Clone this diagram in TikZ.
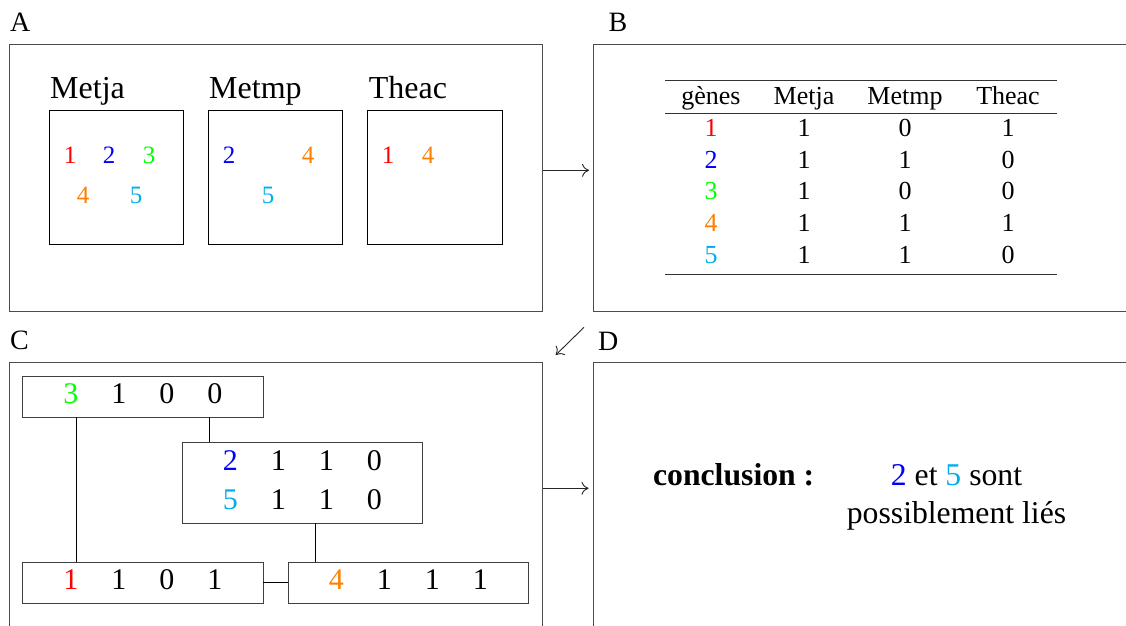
\documentclass[tikz,border=0pt]{standalone}
\usepackage{fontspec}
\setmainfont{Liberation Serif}
\usetikzlibrary{arrows.meta}
\definecolor{gred}{HTML}{FF0000}
\definecolor{gblue}{HTML}{0000FF}
\definecolor{ggreen}{HTML}{00FF00}
\definecolor{gorange}{HTML}{FF8000}
\definecolor{gcyan}{HTML}{00AEEF}
\newcommand\cellbox[1]{\makebox[48pt]{#1}}
\begin{document}
\begin{tikzpicture}[x=1pt,y=-1pt,
  panel/.style={draw=black!70, line width=0.9pt, rectangle, inner sep=0pt, minimum height=267pt},
  lab/.style={anchor=base west, inner sep=0pt, font=\fontsize{28}{32}\selectfont},
  sublab/.style={anchor=base west, inner sep=0pt, font=\fontsize{32}{36}\selectfont},
  subbox/.style={draw=black, line width=0.8pt, inner sep=0pt, minimum width=134.3pt, minimum height=134pt},
  gd/.style={inner sep=0pt, font=\fontsize{25}{30}\selectfont},
  tab/.style={inner sep=0pt, anchor=base, font=\fontsize{26}{30}\selectfont},
  rule/.style={draw=black!80, line width=0.9pt},
  cbox/.style={draw=black!75, line width=0.9pt, inner sep=0pt, minimum width=240.5pt, minimum height=41pt, text depth=6pt, font=\fontsize{30}{39}\selectfont},
  conn/.style={draw=black, line width=0.8pt},
  arr/.style={draw=black!85, line width=0.9pt, -{Computer Modern Rightarrow[length=7pt,width=13pt,line width=0.9pt]}},
  dtext/.style={inner sep=0pt, font=\fontsize{31.7}{38.3}\selectfont}
]
\useasboundingbox (0,0) rectangle (1126,625);
\clip (0,0) rectangle (1126,625);

% panels
\node[panel, minimum width=533pt] (pA) at (275.5,177.5) {};
\node[panel, minimum width=537pt] (pB) at (861.5,177.5) {};
\node[panel, minimum width=533pt] (pC) at (275.5,496.3) {};
\node[panel, minimum width=537pt] (pD) at (861.5,496.3) {};

\node[lab] (lA) at (10,31) {A};
\node[lab] (lB) at (608.5,31) {B};
\node[lab] (lC) at (10,349.3) {C};
\node[lab] (lD) at (598,350.7) {D};

% panel A
\node[sublab] (tMetja) at (50,98.3) {Metja};
\node[sublab] (tMetmp) at (209,98.3) {Metmp};
\node[sublab] (tTheac) at (368.6,98.3) {Theac};
\node[subbox] (sMetja) at (116.05,177) {};
\node[subbox] (sMetmp) at (275.35,177) {};
\node[subbox] (sTheac) at (435,177) {};

\node[gd, text=gred] (m1) at (70,155.5) {1};
\node[gd, text=gblue] (m2) at (109,155.5) {2};
\node[gd, text=ggreen] (m3) at (149,155.5) {3};
\node[gd, text=gorange] (m4) at (83,195.5) {4};
\node[gd, text=gcyan] (m5) at (136,195.5) {5};
\node[gd, text=gblue] (p2) at (229,155.5) {2};
\node[gd, text=gorange] (p4) at (308,155.5) {4};
\node[gd, text=gcyan] (p5) at (268,195.5) {5};
\node[gd, text=gred] (t1) at (388,155.5) {1};
\node[gd, text=gorange] (t4) at (428,155.5) {4};

\coordinate (yab) at (0,170.3);
\draw[arr, shorten <=1pt, shorten >=3.5pt] (pA.east |- yab) -- (pB.west |- yab);

% panel B table
\draw[rule] (665,80.7) -- (1057,80.7);
\draw[rule, line width=0.7pt] (665,113.7) -- (1057,113.7);
\draw[rule] (665,274) -- (1057,274);
\node[tab] (h1) at (711,104.5) {gènes};
\node[tab] (h2) at (804,104.5) {Metja};
\node[tab] (h3) at (905,104.5) {Metmp};
\node[tab] (h4) at (1008,104.5) {Theac};
\foreach \g/\c/\a/\b/\d [count=\r] in {1/gred/1/0/1, 2/gblue/1/1/0, 3/ggreen/1/0/0, 4/gorange/1/1/1, 5/gcyan/1/1/0}{
  \pgfmathsetmacro\yy{136.7+31.6*(\r-1)}
  \node[tab, text=\c] (g\r) at (711,\yy) {\g};
  \node[tab] (ca\r) at (804,\yy) {\a};
  \node[tab] (cb\r) at (905,\yy) {\b};
  \node[tab] (cc\r) at (1008,\yy) {\d};
}

% arrow B -> C
\coordinate (bc1) at (584,327.3);
\coordinate (bc2) at (555.7,355);
\draw[arr] (bc1) -- (bc2);

% panel C
\node[cbox] (b3) at (142.75,396.5) {\cellbox{\textcolor{ggreen}{3}}\cellbox{1}\cellbox{0}\cellbox{0}};
\node[cbox, minimum height=80.3pt, align=center] (b25) at (302.25,482.85) {\cellbox{\textcolor{gblue}{2}}\cellbox{1}\cellbox{1}\cellbox{0}\\\cellbox{\textcolor{gcyan}{5}}\cellbox{1}\cellbox{1}\cellbox{0}};
\node[cbox] (b1) at (142.75,582.65) {\cellbox{\textcolor{gred}{1}}\cellbox{1}\cellbox{0}\cellbox{1}};
\node[cbox] (b4) at (408.3,582.65) {\cellbox{\textcolor{gorange}{4}}\cellbox{1}\cellbox{1}\cellbox{1}};

\coordinate (xl) at (76.4,0);
\coordinate (xm) at (209,0);
\coordinate (xr) at (315.4,0);
\draw[conn] (b3.south -| xl) -- (b1.north -| xl);
\draw[conn] (b3.south -| xm) -- (b25.north -| xm);
\draw[conn] (b25.south -| xr) -- (b4.north -| xr);
\draw[conn] (b1.east) -- (b4.west);

\coordinate (ycd) at (0,488.3);
\draw[arr, shorten <=1pt, shorten >=4pt] (pC.east |- ycd) -- (pD.west |- ycd);

% panel D
\node[dtext, anchor=base west, font=\fontsize{31.7}{38.3}\selectfont\bfseries] (concl) at (652.9,485) {conclusion :};
\node[dtext, align=center] (res) at (956.5,497.3) {\textcolor{gblue}{2} et \textcolor{gcyan}{5} sont\\possiblement liés};
\end{tikzpicture}
\end{document}
